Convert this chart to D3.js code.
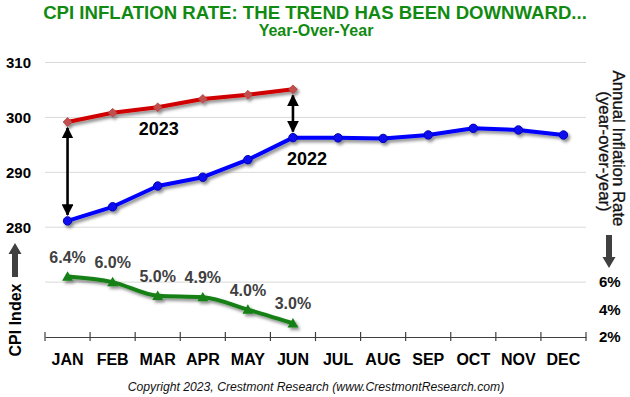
<!DOCTYPE html>
<html>
<head>
<meta charset="utf-8">
<script src="https://cdn.jsdelivr.net/npm/d3@7"></script>
<style>
  body { margin: 0; background: #fff; }
  svg { display: block; font-family: "Liberation Sans", Arial, sans-serif; }
</style>
</head>
<body>
<svg id="chart" width="630" height="397"></svg>
<script>
const months = ['JAN', 'FEB', 'MAR', 'APR', 'MAY', 'JUN', 'JUL', 'AUG', 'SEP', 'OCT', 'NOV', 'DEC'];
const cpi2022 = [281.148, 283.716, 287.504, 289.109, 292.296, 296.311, 296.276, 296.171, 296.808, 298.012, 297.711, 296.797];
const cpi2023 = [299.170, 300.840, 301.836, 303.363, 304.127, 305.109];
const inflation = [6.4, 6.0, 5.0, 4.9, 4.0, 3.0];
const leftTicks = [280, 290, 300, 310];
const gridTicks = [270, 280, 290, 300, 310];
const rightTicks = [2, 4, 6];

const svg = d3.select('#chart');
const plotLeft = 45, plotRight = 586, plotTop = 62.5, plotBottom = 337;

let x = d3.scaleBand().domain(months).range([plotLeft, plotRight]);
let yLeft = d3.scaleLinear().domain([260, 310]).range([plotBottom, plotTop]);
let yRight = d3.scaleLinear().domain([2, 22]).range([plotBottom, plotTop]);
let xc = m => x(m) + x.bandwidth() / 2;

// shadow + arrow defs
let defs = svg.append('defs');
defs.append('filter')
    .attr('id', 'shadow')
    .attr('x', '-10%').attr('y', '-30%').attr('width', '130%').attr('height', '180%')
    .append('feDropShadow')
    .attr('dx', 2).attr('dy', 2.5)
    .attr('stdDeviation', 1.6)
    .attr('flood-color', '#000')
    .attr('flood-opacity', 0.45);
defs.append('marker')
    .attr('id', 'arrowHead')
    .attr('viewBox', '0 0 10 10')
    .attr('refX', 9).attr('refY', 5)
    .attr('markerWidth', 4.5).attr('markerHeight', 4.5)
    .attr('markerUnits', 'strokeWidth')
    .attr('orient', 'auto-start-reverse')
    .append('path')
    .attr('d', 'M0,0 L10,5 L0,10 Z')
    .attr('fill', '#000');

// title
svg.append('text')
    .attr('x', 315).attr('y', 19)
    .attr('text-anchor', 'middle')
    .attr('fill', '#118a11')
    .style('font-size', '18.6px').style('font-weight', 'bold')
    .text('CPI INFLATION RATE: THE TREND HAS BEEN DOWNWARD...');
svg.append('text')
    .attr('x', 316).attr('y', 35.5)
    .attr('text-anchor', 'middle')
    .attr('fill', '#118a11')
    .style('font-size', '16px').style('font-weight', 'bold')
    .text('Year-Over-Year');

// gridlines
svg.append('g')
    .selectAll('line')
    .data(gridTicks)
    .join('line')
    .attr('x1', plotLeft).attr('x2', plotRight)
    .attr('y1', d => yLeft(d)).attr('y2', d => yLeft(d))
    .attr('stroke', '#d9d9d9')
    .attr('stroke-width', 1);

// left axis labels
let leftAxis = svg.append('g')
    .attr('transform', `translate(${plotLeft - 14},0)`)
    .call(d3.axisLeft(yLeft).tickValues(leftTicks).tickSize(0).tickPadding(0));
leftAxis.select('.domain').remove();
leftAxis.selectAll('text')
    .attr('fill', '#000')
    .style('font-size', '15px').style('font-weight', 'bold')
    .style('font-family', '"Liberation Sans", Arial, sans-serif');

// right axis labels
let rightAxis = svg.append('g')
    .attr('transform', `translate(${plotRight + 13},0)`)
    .call(d3.axisRight(yRight).tickValues(rightTicks).tickSize(0).tickPadding(0).tickFormat(d => d + '%'));
rightAxis.select('.domain').remove();
rightAxis.selectAll('text')
    .attr('fill', '#000')
    .style('font-size', '15px').style('font-weight', 'bold')
    .style('font-family', '"Liberation Sans", Arial, sans-serif');

// bottom axis
let bottomAxis = svg.append('g')
    .attr('transform', `translate(0,${plotBottom})`)
    .call(d3.axisBottom(x).tickSize(0).tickPadding(17));
bottomAxis.select('.domain').attr('stroke', '#404040').attr('stroke-width', 1.2);
bottomAxis.selectAll('text')
    .attr('fill', '#000')
    .style('font-size', '16px').style('font-weight', 'bold')
    .style('font-family', '"Liberation Sans", Arial, sans-serif');
let bounds = months.map(m => x(m)).concat([plotRight]);
svg.append('g')
    .selectAll('line')
    .data(bounds)
    .join('line')
    .attr('x1', d => d).attr('x2', d => d)
    .attr('y1', plotBottom - 5).attr('y2', plotBottom + 4)
    .attr('stroke', '#404040').attr('stroke-width', 1.2);

// 2022 line
let cpiLine = d3.line()
    .x((d, i) => xc(months[i]))
    .y(d => yLeft(d));

let g2022 = svg.append('g').attr('filter', 'url(#shadow)');
g2022.append('path')
    .datum(cpi2022)
    .attr('d', cpiLine)
    .attr('fill', 'none')
    .attr('stroke', '#0000ff')
    .attr('stroke-width', 4)
    .attr('stroke-linejoin', 'round');
g2022.selectAll('circle')
    .data(cpi2022)
    .join('circle')
    .attr('cx', (d, i) => xc(months[i]))
    .attr('cy', d => yLeft(d))
    .attr('r', 4.2)
    .attr('fill', '#1010f0')
    .attr('stroke', '#0000b0')
    .attr('stroke-width', 1);

// 2023 line
let g2023 = svg.append('g').attr('filter', 'url(#shadow)');
g2023.append('path')
    .datum(cpi2023)
    .attr('d', cpiLine)
    .attr('fill', 'none')
    .attr('stroke', '#d00000')
    .attr('stroke-width', 4)
    .attr('stroke-linejoin', 'round');
g2023.selectAll('path.dia')
    .data(cpi2023)
    .join('path')
    .classed('dia', true)
    .attr('d', d3.symbol(d3.symbolDiamond2, 50))
    .attr('transform', (d, i) => `translate(${xc(months[i])},${yLeft(d)})`)
    .attr('fill', '#c0504d')
    .attr('stroke', '#b04040')
    .attr('stroke-width', 0.8);

// inflation line
let inflLine = d3.line()
    .x((d, i) => xc(months[i]))
    .y(d => yRight(d))
    .curve(d3.curveMonotoneX);

let gInf = svg.append('g').attr('filter', 'url(#shadow)');
gInf.append('path')
    .datum(inflation)
    .attr('d', inflLine)
    .attr('fill', 'none')
    .attr('stroke', '#158015')
    .attr('stroke-width', 4);
gInf.selectAll('path.tri')
    .data(inflation)
    .join('path')
    .classed('tri', true)
    .attr('d', d3.symbol(d3.symbolTriangle2, 85))
    .attr('transform', (d, i) => `translate(${xc(months[i])},${yRight(d) + 1})`)
    .attr('fill', '#148014');

svg.append('g')
    .selectAll('text')
    .data(inflation)
    .join('text')
    .attr('x', (d, i) => xc(months[i]))
    .attr('y', d => yRight(d) - 14)
    .attr('text-anchor', 'middle')
    .attr('fill', '#404040')
    .style('font-size', '16px').style('font-weight', 'bold')
    .text(d => d.toFixed(1) + '%');

// year labels
svg.append('text')
    .attr('x', xc('MAR') + 1).attr('y', yLeft(cpi2023[2]) + 28)
    .attr('text-anchor', 'middle')
    .style('font-size', '18px').style('font-weight', 'bold')
    .text('2023');
svg.append('text')
    .attr('x', xc('JUN') + 14).attr('y', yLeft(cpi2022[5]) + 27)
    .attr('text-anchor', 'middle')
    .style('font-size', '18px').style('font-weight', 'bold')
    .text('2022');

// double arrows between years
[0, 5].forEach(i => {
    let xa = xc(months[i]);
    svg.append('line')
        .attr('x1', xa).attr('x2', xa)
        .attr('y1', yLeft(cpi2023[i]) + 6)
        .attr('y2', yLeft(cpi2022[i]) - 6)
        .attr('stroke', '#000')
        .attr('stroke-width', 2.6)
        .attr('marker-start', 'url(#arrowHead)')
        .attr('marker-end', 'url(#arrowHead)');
});

// side titles
function blockArrow(g, cx, y0, y1) {
    let dir = y1 > y0 ? 1 : -1;
    let head = 11 * dir;
    g.append('path')
        .attr('d', `M${cx - 3},${y0} L${cx + 3},${y0} L${cx + 3},${y1 - head} L${cx + 6.5},${y1 - head} L${cx},${y1} L${cx - 6.5},${y1 - head} L${cx - 3},${y1 - head} Z`)
        .attr('fill', '#404040');
}
let side = svg.append('g');
side.append('text')
    .attr('transform', 'translate(21,320) rotate(-90)')
    .attr('text-anchor', 'middle')
    .style('font-size', '16px').style('font-weight', 'bold')
    .text('CPI Index');
blockArrow(side, 15, 277, 243);

side.append('text')
    .attr('transform', 'translate(613,148.5) rotate(90)')
    .attr('text-anchor', 'middle')
    .style('font-size', '16.8px')
    .attr('fill', '#111')
    .attr('stroke', '#111').attr('stroke-width', 0.3)
    .text('Annual Inflation Rate');
side.append('text')
    .attr('transform', 'translate(599,151.5) rotate(90)')
    .attr('text-anchor', 'middle')
    .style('font-size', '16.8px')
    .attr('fill', '#111')
    .attr('stroke', '#111').attr('stroke-width', 0.3)
    .text('(year-over-year)');
blockArrow(side, 609, 235, 268);

// footer
svg.append('text')
    .attr('x', 316).attr('y', 391)
    .attr('text-anchor', 'middle')
    .attr('fill', '#111')
    .style('font-size', '12.2px').style('font-style', 'italic')
    .text('Copyright 2023, Crestmont Research (www.CrestmontResearch.com)');
</script>
</body>
</html>
